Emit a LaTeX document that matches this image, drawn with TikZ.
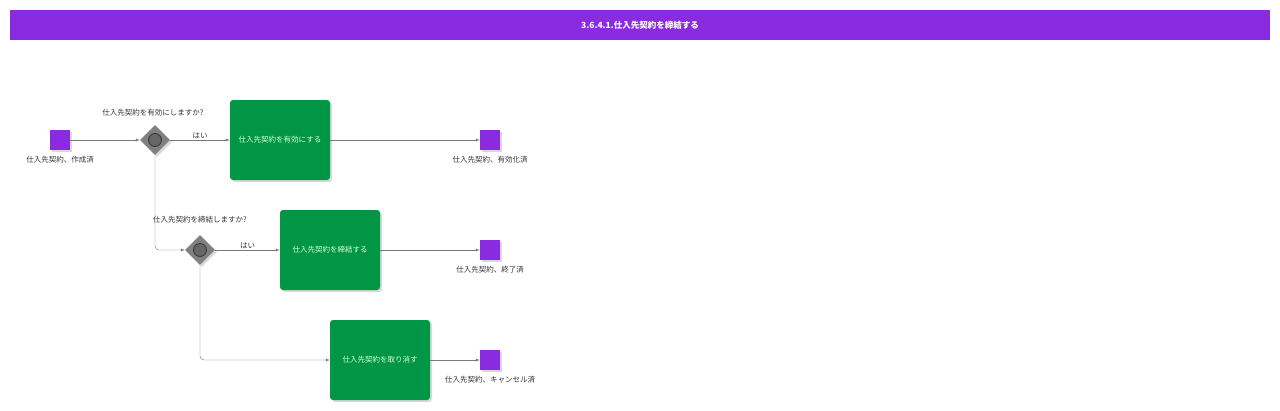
\documentclass[tikz,border=0pt]{standalone}
\usepackage{fontspec}
\setmainfont{Noto Sans CJK JP}
\usetikzlibrary{shapes.geometric,shadows}
\definecolor{bpmpurple}{RGB}{138,43,226}
\definecolor{bpmgreen}{RGB}{0,150,70}
\definecolor{bpmline}{RGB}{120,120,120}
\tikzset{
  event/.style={fill=bpmpurple,minimum size=20pt,inner sep=0pt,
    drop shadow={shadow xshift=2pt,shadow yshift=-2pt,opacity=0.3}},
  gate/.style={diamond,fill=gray,minimum size=30pt,inner sep=0pt,
    drop shadow={shadow xshift=2pt,shadow yshift=-2pt,opacity=0.3}},
  task/.style={fill=bpmgreen,rounded corners=3pt,minimum width=100pt,minimum height=80pt,
    inner sep=0pt,text=white!85!green,font=\fontsize{7.5}{9}\selectfont,
    drop shadow={shadow xshift=2pt,shadow yshift=-2pt,opacity=0.3}},
  lbl/.style={font=\fontsize{7.5}{9}\selectfont,text=black!80,inner sep=1pt},
  flow/.style={draw=bpmline,-latex,rounded corners=4pt},
}
\begin{document}
\begin{tikzpicture}[x=1pt,y=-1pt]
  \useasboundingbox (0,0) rectangle (1280,410);
  % title
  \fill[bpmpurple] (10,10) rectangle (1270,40);
  \node[text=white,font=\fontsize{8.5}{10}\selectfont\bfseries] (title) at (640,25) {3.6.4.1.仕入先契約を締結する};
  % events
  \node[event] (start) at (60,140) {};
  \node[event] (endA) at (490,140) {};
  \node[event] (endB) at (490,250) {};
  \node[event] (endC) at (490,360) {};
  \node[lbl] (startL) at (60,160) {仕入先契約、作成済};
  \node[lbl] (endAL) at (490,160) {仕入先契約、有効化済};
  \node[lbl] (endBL) at (490,270) {仕入先契約、終了済};
  \node[lbl] (endCL) at (490,380) {仕入先契約、キャンセル済};
  % gateways
  \node[gate] (gwA) at (155,140) {};
  \node[gate] (gwB) at (200,250) {};
  \foreach \g in {gwA,gwB}
    \draw[thick,fill=gray!80!black,draw=black!80] (\g) circle (6.5pt);
  \node[lbl] (gwAL) at (153,113) {仕入先契約を有効にしますか?};
  \node[lbl] (gwBL) at (200,220) {仕入先契約を締結しますか?};
  % tasks
  \node[task] (taskA) at (280,140) {仕入先契約を有効にする};
  \node[task] (taskB) at (330,250) {仕入先契約を締結する};
  \node[task] (taskC) at (380,360) {仕入先契約を取り消す};
  % flows
  \draw[flow] (start) -- (gwA);
  \draw[flow] (gwA) -- node[lbl,above,pos=0.5] {はい} (taskA);
  \draw[flow] (taskA) -- (endA);
  \draw[flow] (gwA.south) |- (gwB.west);
  \draw[flow] (gwB) -- node[lbl,above,pos=0.5] {はい} (taskB);
  \draw[flow] (taskB) -- (endB);
  \draw[flow] (gwB.south) |- (taskC.west);
  \draw[flow] (taskC) -- (endC);
\end{tikzpicture}
\end{document}
